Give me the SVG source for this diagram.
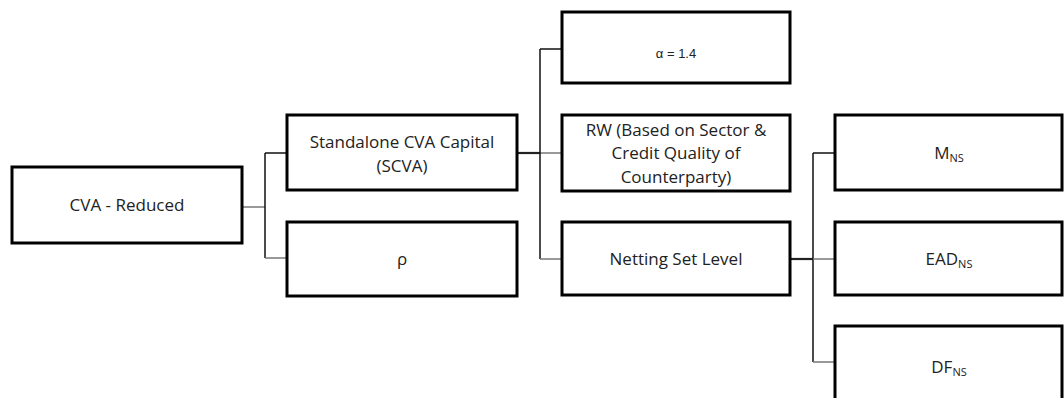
<svg xmlns="http://www.w3.org/2000/svg" width="1064" height="398" viewBox="0 0 1064 398">
<style>
.box{fill:#fff;stroke:#000;stroke-width:3}
.t{font-family:"Open Sans","Liberation Sans",sans-serif;font-size:17px;fill:#222;text-anchor:middle}
.a{font-family:"Liberation Sans",Arial,sans-serif;font-size:13px;fill:#222;text-anchor:middle}
.sub{font-size:11px}
.k{stroke:#111;stroke-width:1.5;fill:none}
.g{stroke:#777;stroke-width:1.5;fill:none}
.kb{stroke:#222;stroke-width:2.2;fill:none}
</style>
<rect width="1064" height="398" fill="#fff"/>
<g id="connectors">
<path class="g" d="M242,207H265"/>
<path class="k" d="M265,153V258"/>
<path class="k" d="M265,153H287"/>
<path class="g" d="M265,258H287"/>
<path class="kb" d="M517,153H540"/>
<path class="g" d="M540,153H561"/>
<path class="k" d="M540,49V259"/>
<path class="k" d="M540,49H561"/>
<path class="g" d="M540,259H561"/>
<path class="kb" d="M790,259H813"/>
<path class="k" d="M813,153V362"/>
<path class="k" d="M813,153H835"/>
<path class="g" d="M813,259H835"/>
<path class="g" d="M813,362H835"/>
</g>
<g id="cva-reduced">
<rect class="box" x="12" y="167" width="230" height="76"/>
<text class="t" x="127" y="211">CVA - Reduced</text>
</g>
<g id="scva">
<rect class="box" x="287" y="115" width="230" height="75"/>
<text class="t" x="402" y="147.5">Standalone CVA Capital</text>
<text class="t" x="402" y="171.5">(SCVA)</text>
</g>
<g id="rho">
<rect class="box" x="287" y="222" width="230" height="74"/>
<text class="t" x="402" y="265">ρ</text>
</g>
<g id="alpha">
<rect class="box" x="562" y="12" width="228" height="71"/>
<text class="a" x="676" y="58">α = 1.4</text>
</g>
<g id="rw">
<rect class="box" x="562" y="115" width="228" height="76"/>
<text class="t" x="676" y="135.5">RW (Based on Sector &amp;</text>
<text class="t" x="676" y="159">Credit Quality of</text>
<text class="t" x="676" y="182.5">Counterparty)</text>
</g>
<g id="netting">
<rect class="box" x="562" y="222" width="228" height="73"/>
<text class="t" x="676" y="264.5">Netting Set Level</text>
</g>
<g id="m-ns">
<rect class="box" x="835" y="115" width="227" height="75"/>
<text class="t" x="949" y="158.5">M<tspan class="sub" dy="3">NS</tspan></text>
</g>
<g id="ead-ns">
<rect class="box" x="835" y="222" width="227" height="73"/>
<text class="t" x="949" y="264.5">EAD<tspan class="sub" dy="3">NS</tspan></text>
</g>
<g id="df-ns">
<rect class="box" x="835" y="326" width="227" height="80"/>
<text class="t" x="949" y="373">DF<tspan class="sub" dy="3">NS</tspan></text>
</g>
</svg>
